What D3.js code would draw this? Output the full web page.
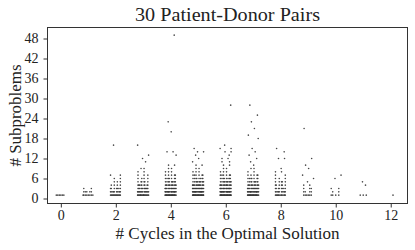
<!DOCTYPE html>
<html>
<head>
<meta charset="utf-8">
<script src="https://cdn.jsdelivr.net/npm/d3@7"></script>
<style>
  body { margin: 0; background: #fff; }
  text { font-family: "Liberation Serif", "DejaVu Serif", serif; fill: #222; }
</style>
</head>
<body>
<div id="chart"></div>
<script>
// x categories: number of cycles in the optimal solution
const cycles = [0, 1, 2, 3, 4, 5, 6, 7, 8, 9, 10, 11, 12];
// for each category: [number of subproblems, how many instances]
const counts = [
    [[1, 6]],
    [[1, 8], [2, 5], [3, 2]],
    [[1, 14], [2, 10], [3, 7], [4, 4], [5, 3], [6, 2], [7, 2], [16, 1]],
    [[1, 18], [2, 15], [3, 12], [4, 9], [5, 6], [6, 4], [7, 3], [8, 2], [9, 2], [11, 1], [12, 1], [13, 1], [16, 1]],
    [[1, 22], [2, 18], [3, 15], [4, 12], [5, 9], [6, 7], [7, 5], [8, 3], [9, 2], [10, 2], [13, 1], [14, 2], [20, 1], [23, 1], [49, 1]],
    [[1, 24], [2, 20], [3, 17], [4, 14], [5, 11], [6, 8], [7, 6], [8, 3], [9, 2], [10, 2], [11, 1], [12, 1], [13, 1], [14, 2], [15, 1]],
    [[1, 24], [2, 20], [3, 17], [4, 14], [5, 11], [6, 8], [7, 6], [8, 3], [9, 2], [10, 2], [11, 2], [12, 2], [13, 1], [14, 2], [15, 2], [16, 1], [28, 1]],
    [[1, 22], [2, 18], [3, 15], [4, 12], [5, 9], [6, 7], [7, 5], [8, 2], [9, 2], [10, 1], [11, 1], [12, 1], [13, 1], [14, 1], [15, 1], [18, 1], [19, 1], [21, 1], [23, 1], [25, 1], [28, 1]],
    [[1, 12], [2, 10], [3, 8], [4, 6], [5, 5], [6, 3], [7, 2], [8, 2], [9, 1], [12, 2], [14, 1], [15, 1]],
    [[1, 6], [2, 4], [3, 3], [4, 2], [5, 1], [6, 1], [7, 1], [9, 1], [10, 1], [12, 1], [21, 1]],
    [[1, 4], [2, 2], [3, 2], [6, 1], [7, 1]],
    [[1, 3], [4, 1], [5, 1]],
    [[1, 1]]
];
const xTicks = [0, 2, 4, 6, 8, 10, 12];
const yTicks = [0, 6, 12, 18, 24, 30, 36, 42, 48];

const width = 415, height = 250;
const box = {left: 47.5, right: 407.5, top: 27.5, bottom: 203.5};

const svg = d3.select('#chart').append('svg')
    .attr('width', width)
    .attr('height', height);

const x = d3.scaleLinear().domain([-0.485, 12.61]).range([box.left, box.right]);
const y = d3.scaleLinear().domain([-1.5, 51.3]).range([box.bottom, box.top]);

// spread the instances of one level across the strip width (bit-reversed order, so rows don't line up)
function spread(i) {
    let f = 0.5, r = 0;
    for (let k = i + 1; k > 0; k >>= 1, f /= 2) if (k & 1) r += f;
    return r;
}
const half = 0.22;
const points = [];
cycles.forEach((c, ci) => {
    counts[ci].forEach(([v, n], li) => {
        for (let i = 0; i < n; i++) {
            const u = n === 1 ? spread(li + ci) : spread(i + li);
            points.push({x: c - half + 2 * half * u, y: v});
        }
    });
});

svg.append('g')
    .selectAll('circle')
    .data(points)
    .join('circle')
    .attr('cx', d => x(d.x))
    .attr('cy', d => y(d.y))
    .attr('r', 0.8)
    .attr('fill', '#333')
    .attr('fill-opacity', 0.9);

svg.append('rect')
    .attr('x', box.left)
    .attr('y', box.top)
    .attr('width', box.right - box.left)
    .attr('height', box.bottom - box.top)
    .attr('fill', 'none')
    .attr('stroke', '#333')
    .attr('stroke-width', 1);

const gx = svg.append('g')
    .attr('transform', `translate(0,${box.bottom})`)
    .call(d3.axisBottom(x).tickValues(xTicks).tickSize(4).tickPadding(3).tickFormat(d3.format('d')));
gx.select('.domain').remove();
gx.selectAll('line').attr('stroke', '#333');
gx.selectAll('text').attr('font-size', 14).attr('font-family', null).attr('fill', '#222');

const gy = svg.append('g')
    .attr('transform', `translate(${box.left},0)`)
    .call(d3.axisLeft(y).tickValues(yTicks).tickSize(4).tickPadding(5).tickFormat(d3.format('d')));
gy.select('.domain').remove();
gy.selectAll('line').attr('stroke', '#333');
gy.selectAll('text').attr('font-size', 14).attr('font-family', null).attr('fill', '#222');

svg.append('text')
    .attr('x', (box.left + box.right) / 2)
    .attr('y', 21)
    .attr('text-anchor', 'middle')
    .attr('font-size', 18.5)
    .attr('textLength', 185)
    .attr('lengthAdjust', 'spacingAndGlyphs')
    .text('30 Patient-Donor Pairs');

svg.append('text')
    .attr('x', (box.left + box.right) / 2)
    .attr('y', 239)
    .attr('text-anchor', 'middle')
    .attr('font-size', 16.5)
    .attr('textLength', 224)
    .attr('lengthAdjust', 'spacingAndGlyphs')
    .text('# Cycles in the Optimal Solution');

svg.append('text')
    .attr('transform', `translate(21,${(box.top + box.bottom) / 2}) rotate(-90)`)
    .attr('text-anchor', 'middle')
    .attr('font-size', 16.5)
    .attr('textLength', 102)
    .attr('lengthAdjust', 'spacingAndGlyphs')
    .text('# Subproblems');
</script>
</body>
</html>
